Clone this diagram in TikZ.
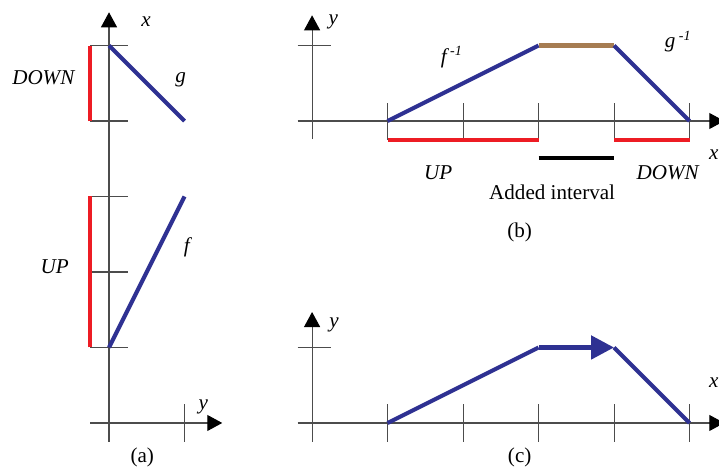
\documentclass[tikz,border=0pt]{standalone}
\usepackage{fontspec}
\setmainfont{Liberation Serif}
\usetikzlibrary{arrows.meta,positioning}
\definecolor{curveblue}{RGB}{46,49,146}
\definecolor{intervalred}{RGB}{237,28,36}
\definecolor{addedbrown}{RGB}{166,124,82}

\begin{document}
\begin{tikzpicture}[x=1.51cm, y=1.51cm,
    axis/.style={line width=0.6pt, black!70, -{Triangle[length=0.3cm, width=0.32cm, color=black]}},
    ticks/.style={line width=0.6pt, black!70},
    curve/.style={line width=2.3pt, curveblue},
    interval/.style={line width=2.3pt, intervalred},
    lbl/.style={font=\itshape\fontsize{12}{14}\selectfont, inner sep=0pt},
    caption/.style={font=\fontsize{12}{14}\selectfont, inner sep=0pt}
]
\useasboundingbox (-1.444,-0.649) rectangle (8.08,5.603);

% Panel (a): f and g
\draw[axis] (0,-0.25) -- (0,5.44);
\draw[axis] (-0.25,0) -- (1.5,0);
\foreach \t in {1,...,5}
    \draw[ticks] (-0.25,\t) -- (0.25,\t);
\draw[ticks] (1,-0.25) -- (1,0.25);
\draw[interval] (-0.25,4) -- (-0.25,5);
\draw[interval] (-0.25,1) -- (-0.25,3);
\draw[curve] (0,5) -- (1,4);
\draw[curve] (0,1) -- (1,3);
\node[lbl] (ax) at (0.49,5.31) {x};
\node[lbl] (ay) at (1.25,0.21) {y};
\node[lbl] (glabel) at (0.95,4.54) {g};
\node[lbl] (flabel) at (1.03,2.33) {f};
\node[lbl] (adown) at (-0.87,4.58) {DOWN};
\node[lbl] (aup) at (-0.72,2.07) {UP};
\node[caption] (capa) at (0.44,-0.45) {(a)};

% Panel (b): inverses with added interval
\begin{scope}[shift={(2.69,4)}]
\draw[axis] (-0.19,0) -- (5.46,0);
\draw[axis] (0,-0.24) -- (0,1.4);
\draw[ticks] (-0.19,1) -- (0.25,1);
\foreach \t in {1,...,5}
    \draw[ticks] (\t,-0.25) -- (\t,0.24);
\draw[interval] (1,-0.25) -- (3,-0.25);
\draw[interval] (4,-0.25) -- (5,-0.25);
\draw[line width=2.3pt, black] (3,-0.49) -- (4,-0.49);
\draw[curve] (1,0) -- (3,1);
\draw[line width=2.3pt, addedbrown] (3,1) -- (4,1);
\draw[curve] (4,1) -- (5,0);
\node[lbl] (by) at (0.28,1.31) {y};
\node[lbl] (bx) at (5.32,-0.45) {x};
\node[lbl] (finv) at (1.85,0.85) {f\,\textsuperscript{-1}};
\node[lbl] (ginv) at (4.85,1.05) {g\,\textsuperscript{-1}};
\node[lbl] (bup) at (1.67,-0.68) {UP};
\node[lbl] (bdown) at (4.71,-0.68) {DOWN};
\node[caption] (added) at (3.18,-0.94) {Added interval};
\node[caption] (capb) at (2.75,-1.48) {(b)};
\end{scope}

% Panel (c): joined path
\begin{scope}[shift={(2.69,0)}]
\draw[axis] (-0.19,0) -- (5.46,0);
\draw[axis] (0,-0.25) -- (0,1.47);
\draw[ticks] (-0.19,1) -- (0.25,1);
\foreach \t in {1,...,5}
    \draw[ticks] (\t,-0.25) -- (\t,0.25);
\draw[curve] (1,0) -- (3,1);
\draw[curve, line width=2.8pt, -{Triangle[length=0.46cm, width=0.46cm]}] (3,1) -- (4,1);
\draw[curve] (4,1) -- (5,0);
\node[lbl] (cy) at (0.29,1.30) {y};
\node[lbl] (cx) at (5.32,0.53) {x};
\node[caption] (capc) at (2.75,-0.46) {(c)};
\end{scope}

\end{tikzpicture}
\end{document}
